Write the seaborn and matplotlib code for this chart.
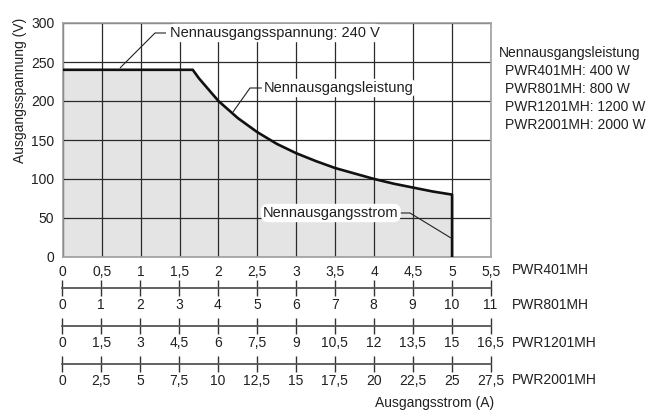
import seaborn as sns
import pandas as pd
import matplotlib.pyplot as plt
import numpy as np

# Ausgangskennlinie PWR401MH (Strom in A, Spannung in V)
strom = [0, 1.67, 1.75, 2.0, 2.25, 2.5, 2.75, 3.0, 3.25, 3.5, 3.75, 4.0, 4.25, 4.5, 4.75, 5.0, 5.0]
spannung = [240, 240, 229, 200, 178, 160, 145, 133, 123, 114, 107, 100, 94, 89, 84, 80, 0]

y_ticks = [0, 50, 100, 150, 200, 250, 300]

modelle = ["PWR401MH", "PWR801MH", "PWR1201MH", "PWR2001MH"]
labels_401 = ["0", "0,5", "1", "1,5", "2", "2,5", "3", "3,5", "4", "4,5", "5", "5,5"]
labels_801 = ["0", "1", "2", "3", "4", "5", "6", "7", "8", "9", "10", "11"]
labels_1201 = ["0", "1,5", "3", "4,5", "6", "7,5", "9", "10,5", "12", "13,5", "15", "16,5"]
labels_2001 = ["0", "2,5", "5", "7,5", "10", "12,5", "15", "17,5", "20", "22,5", "25", "27,5"]

leistung_text = ["Nennausgangsleistung",
                 "PWR401MH: 400 W",
                 "PWR801MH: 800 W",
                 "PWR1201MH: 1200 W",
                 "PWR2001MH: 2000 W"]

W, H = 670, 412
sns.set_theme(style="white")
plt.rcParams["font.family"] = ["Liberation Sans", "DejaVu Sans"]
txt = "#231f20"
fs_tick = 10
fs_note = 10.5

fig = plt.figure(figsize=(W / 100, H / 100), dpi=100)

def fx(px):
    return px / W

def fy(py):
    return 1 - py / H

x0, x1 = 62.7, 491
ax = fig.add_axes([fx(x0), fy(257), fx(x1) - fx(x0), fy(23) - fy(257)])

df = pd.DataFrame({"strom": strom, "spannung": spannung})
ax.fill_between(df["strom"], df["spannung"], 0, color="#e4e4e4", lw=0, zorder=0)
ax.set_xlim(0, 5.5)
ax.set_ylim(0, 300)
ax.set_xticks(np.arange(12) * 0.5)
ax.set_xticklabels(labels_401, color=txt)
ax.set_yticks(y_ticks)
ax.set_yticklabels([str(v) for v in y_ticks], color=txt)
ax.tick_params(axis="both", length=0, pad=6, labelsize=fs_tick)
ax.grid(True, color="#2a2a2a", lw=0.9, zorder=1)
ax.set_axisbelow(False)
for s in ax.spines.values():
    s.set_color("#a0a0a0")
    s.set_linewidth(1.2)
    s.set_zorder(3)
sns.lineplot(data=df, x="strom", y="spannung", ax=ax, color="#111111", lw=1.9,
             sort=False, estimator=None, zorder=4)
ax.set_xlabel("")
ax.set_ylabel("")

fig.text(fx(20), fy(90), "Ausgangsspannung (V)", rotation=90, ha="center",
         va="center", color=txt, fontsize=fs_tick)

box = dict(boxstyle="round,pad=0.15,rounding_size=0.5", fc="white", ec="none")

def px2data(px, py):
    return ((px - x0) / (x1 - x0) * 5.5, (257 - py) / 234 * 300)

def leader(points):
    xs, ys = zip(*[px2data(*p) for p in points])
    ax.plot(xs, ys, color="#222222", lw=0.8, zorder=5, solid_capstyle="butt")

leader([(166, 33), (155, 33), (120, 68)])
ax.text(*px2data(170, 33), "Nennausgangsspannung: 240 V", ha="left", va="center",
        color=txt, fontsize=fs_note, bbox=box, zorder=6)

leader([(262, 88), (250, 88), (233, 112)])
ax.text(*px2data(264, 88), "Nennausgangsleistung", ha="left", va="center",
        color=txt, fontsize=fs_note, bbox=box, zorder=6)

leader([(396, 213), (410, 213), (451, 238)])
ax.text(*px2data(263, 213), "Nennausgangsstrom", ha="left", va="center",
        color=txt, fontsize=fs_note, bbox=box, zorder=6)

fig.text(fx(512), fy(270), modelle[0], ha="left", va="center", color=txt, fontsize=fs_tick)

# Zusätzliche Stromskalen
skalen = [(288, 305, labels_801, modelle[1]),
          (326, 343, labels_1201, modelle[2]),
          (364, 380, labels_2001, modelle[3])]
for line_y, lab_y, labs, name in skalen:
    sax = fig.add_axes([fx(x0 - 0.5), fy(line_y), fx(x1) - fx(x0), 0.0001])
    sax.set_xlim(0, 11)
    sax.set_ylim(0, 1)
    for k in ["top", "left", "right"]:
        sax.spines[k].set_visible(False)
    sax.spines["bottom"].set_color("#555555")
    sax.spines["bottom"].set_linewidth(1.3)
    sax.set_yticks([])
    sax.set_xticks(range(12))
    sax.set_xticklabels(labs, color=txt, fontsize=fs_tick)
    sax.tick_params(axis="x", bottom=True, direction="inout", length=12, width=1.0,
                    color="#333333", pad=1)
    sax.set_facecolor("none")
    fig.text(fx(512), fy(lab_y), name, ha="left", va="center", color=txt, fontsize=fs_tick)

fig.text(fx(435), fy(403), "Ausgangsstrom (A)", ha="center", va="center",
         color=txt, fontsize=fs_tick)

# Leistungsangaben rechts
fig.text(fx(499), fy(53), leistung_text[0], ha="left", va="center", color=txt, fontsize=fs_tick)
for i, line in enumerate(leistung_text[1:]):
    fig.text(fx(505), fy(71 + i * 18), line, ha="left", va="center", color=txt, fontsize=fs_tick)

fig.savefig("out.png", dpi=100)
